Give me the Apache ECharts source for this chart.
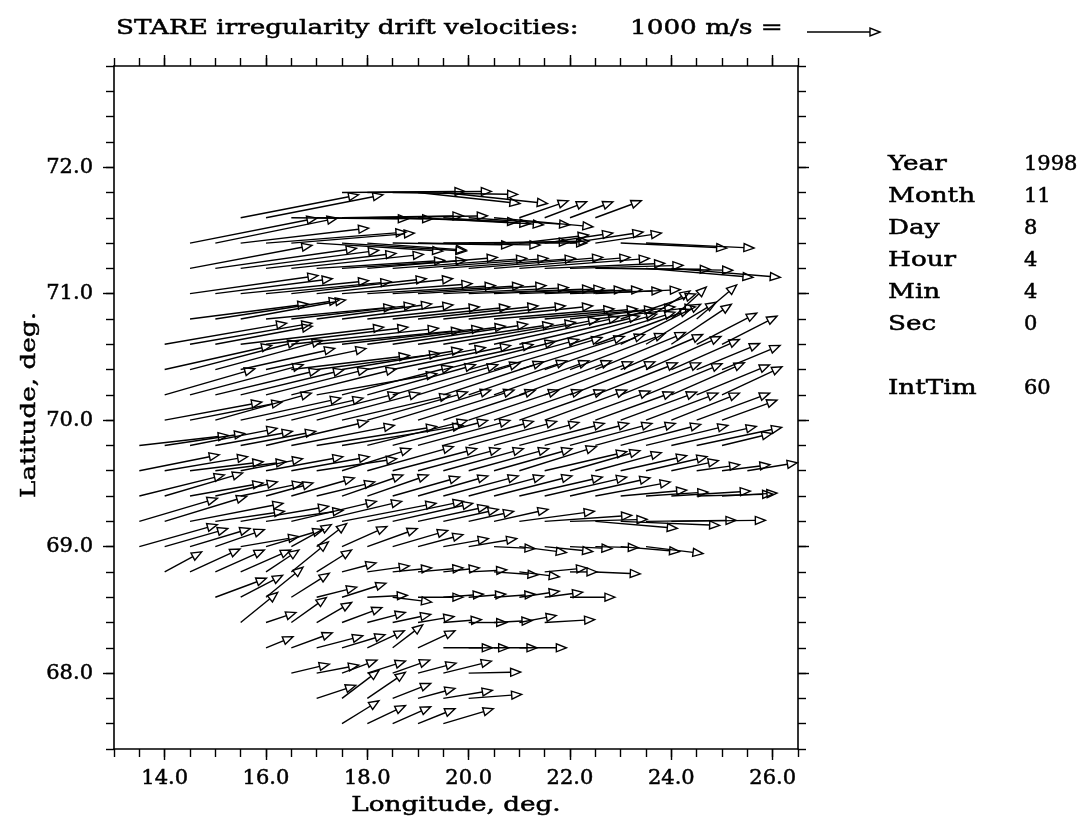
<!DOCTYPE html>
<html>
<head>
<meta charset="utf-8">
<title>STARE irregularity drift velocities</title>
<script src="https://cdn.jsdelivr.net/npm/echarts@6/dist/echarts.min.js"></script>
<style>
  html, body { margin: 0; padding: 0; background: #fff; }
  #chart { width: 1085px; height: 825px; }
</style>
</head>
<body>
<div id="chart"></div>
<script>
// tail rows: latitude of each row and longitude of its first cell (cells every 0.5 deg)
var rowLat = [71.8, 71.6, 71.4, 71.2, 71.0, 70.8, 70.6, 70.4, 70.2, 70.0, 69.8,
              69.6, 69.4, 69.2, 69.0, 68.8, 68.6, 68.4, 68.2, 68.0, 67.8, 67.6];
var rowLon0 = [17.5, 15.5, 14.5, 14.5, 14.5, 14.5, 14.0, 14.0, 14.0, 14.0, 13.5,
               13.5, 13.5, 13.5, 13.5, 14.0, 15.0, 15.5, 16.0, 16.5, 17.0, 17.5];
var lonStep = 0.5;

// eastward velocity, m/s, one list per row
var velEast = [
  [1685,1699,1712,1397,1425],
  [1616,1603,1603,1589,1658,1644,1712,1534,1370,1384,1356,671,575,589,630],
  [1740,1671,1753,1918,1685,1726,1699,1356,1630,1671,1726,1616,1301,945,932,1000,904,1452,1479],
  [1671,1932,1890,1781,1808,1753,1699,1781,1836,1781,1808,1836,1863,1781,1644,1548,1575,1534,1466,1493],
  [1753,1603,1753,1712,1849,1863,1781,1753,1781,1753,1712,1699,1507,1438,1329,1260,1164],
  [1616,1699,1438,1753,1685,1575,1521,1534,1603,1644,1671,1699,1644,1616,1507,1438,1370,1027,603,479,548],
  [1671,1671,1329,1959,1945,2014,1986,1918,1890,1849,1849,1808,1781,1712,1644,1534,1438,1301,1096,959,822,822,753],
  [1466,1479,1466,1288,1370,1616,1685,1644,1616,1616,1575,1534,1507,1479,1438,1370,1301,1233,1123,1027,932,863,795],
  [1233,1548,1425,1411,1397,1438,1644,1507,1479,1438,1397,1370,1342,1301,1260,1205,1164,1123,1096,1041,1000,1000,822],
  [1329,1260,1315,1370,1329,1466,1411,1479,1370,1342,1315,1260,1233,1205,1164,1123,1096,1068,1041,986,932,1000,753],
  [1219,1096,1192,1055,1027,1397,1411,1644,1658,1370,1301,1260,1233,1205,1164,1164,1151,1123,1096,1096,1123,1164,1164,685],
  [1096,1137,1000,973,849,1055,1068,1096,945,1178,1151,1123,1096,1096,1068,1055,1123,959,904,904,836,644,589,658,685],
  [1164,1068,1000,849,849,644,863,795,836,836,918,959,1027,1027,1068,1137,1123,1096,1027,904,849,1082,1041,753],
  [1068,1123,1274,945,1205,1055,1164,1164,1288,1315,1096,959,753,616,740,1027,1192,1055,1123,1356,1233,1288],
  [1068,863,822,671,795,781,548,411,616,685,753,616,616,658,562,644,658,575,589,808,781],
  [507,685,671,685,452,507,479,466,575,534,616,493,521,603,548,575,370,616],
  [699,575,507,521,548,603,548,534,616,548,507,562,548,521,616],
  [507,411,479,479,548,521,521,493,521,521,521,507,685],
  [370,562,630,589,507,411,507,671,548,589,644],
  [521,575,479,521,507,521,658,712],
  [534,507,521,521,507,671,726],
  [507,521,521,507,685]
];

// northward velocity, m/s, one list per row
var velNorth = [
  [14,14,-27,-151,-151],
  [315,315,-14,-14,27,27,-55,-82,-96,-96,-123,233,219,219,233],
  [342,342,205,151,137,-110,-110,-96,-27,-27,14,0,27,110,137,151,137,-68,-68],
  [315,274,247,205,192,110,110,151,137,137,137,151,151,137,68,41,-14,-27,-123,-123],
  [247,205,178,164,205,205,137,110,110,110,82,68,68,55,55,41,55],
  [205,260,260,164,192,205,192,164,164,178,178,178,137,137,137,164,164,342,384,438,466],
  [288,288,247,233,233,219,192,219,247,274,274,301,342,370,384,411,438,479,548,575,548,425,384],
  [329,384,397,288,288,192,219,274,301,329,342,384,411,438,452,479,493,507,479,452,411,356,329],
  [356,411,342,342,356,356,288,384,411,411,438,452,466,466,466,452,452,438,438,425,438,411,384],
  [247,247,370,301,301,370,370,342,384,411,411,411,411,411,411,411,397,384,384,370,370,370,274],
  [137,164,233,192,192,329,274,260,274,342,342,342,329,329,315,301,301,301,301,288,274,260,247,164],
  [219,192,123,123,164,192,192,164,301,329,301,301,301,301,301,329,260,274,247,205,192,137,82,82,110],
  [288,315,178,192,178,178,247,192,288,288,260,274,274,274,274,260,260,247,192,82,55,68,27,41],
  [315,342,247,137,205,151,274,274,247,274,247,205,164,137,164,137,82,27,-96,-55,14,14],
  [301,247,247,233,137,233,301,315,274,247,219,164,110,110,-27,-82,-68,-27,-14,-68,-96],
  [274,315,301,301,301,411,301,123,82,55,55,55,27,-41,-68,55,0,-27],
  [260,301,411,329,137,192,27,-68,0,41,41,41,82,68,0],
  [411,137,342,274,205,137,110,82,41,0,27,96,41],
  [151,205,164,178,233,315,233,0,0,0,0],
  [123,110,178,164,178,137,164,14],
  [178,384,356,205,137,110,55],
  [315,247,233,205,205]
];

var xLabelVals = [14, 16, 18, 20, 22, 24, 26];
var yLabelVals = [68, 69, 70, 71, 72];
var infoNames = ['Year', 'Month', 'Day', 'Hour', 'Min', 'Sec', '', 'IntTim'];
var infoValues = ['1998', '11', '8', '4', '4', '0', '', '60'];
var keySpeed = 1000; // m/s

var FONT = "'DejaVu Serif', serif";
var PX_PER_MS = 73 / keySpeed;
var HEAD_LEN = 10, HEAD_HALF = 4;
var LW = 1.4;
var WIDE = 1.25; // the plot's font is wider than DejaVu Serif

var cells = [];
rowLat.forEach(function (lat, i) {
  var n = Math.min(velEast[i].length, velNorth[i].length);
  for (var j = 0; j < n; j++) {
    cells.push([rowLon0[i] + j * lonStep, lat, velEast[i][j], velNorth[i][j]]);
  }
});

// shaft + open triangular head, in pixels
function arrowShapes(x0, y0, dx, dy) {
  var len = Math.sqrt(dx * dx + dy * dy) || 1;
  var ux = dx / len, uy = dy / len;
  var tx = x0 + dx, ty = y0 + dy;
  var bx = tx - ux * HEAD_LEN, by = ty - uy * HEAD_LEN;
  return [
    { type: 'line', shape: { x1: x0, y1: y0, x2: bx, y2: by }, style: { stroke: '#000', lineWidth: LW } },
    { type: 'polygon', shape: { points: [[tx, ty], [bx - uy * HEAD_HALF, by + ux * HEAD_HALF], [bx + uy * HEAD_HALF, by - ux * HEAD_HALF]] },
      style: { stroke: '#000', lineWidth: LW, fill: 'none', lineJoin: 'miter' } }
  ];
}

function renderArrow(params, api) {
  var p = api.coord([api.value(0), api.value(1)]);
  return {
    type: 'group',
    children: arrowShapes(p[0], p[1], api.value(2) * PX_PER_MS, -api.value(3) * PX_PER_MS)
  };
}

var axisLineStyle = { color: '#000', width: 1.6 };
var tickStyle = { color: '#000', width: 1.4 };
var labelStyle = { color: '#000', fontFamily: FONT, fontSize: 21, textBorderColor: '#000', textBorderWidth: 0.5 };

function xAx(pos, major, labels) {
  return {
    type: 'value', position: pos, min: 13, max: 26.5, interval: 0.5,
    axisLine: { show: !major, lineStyle: axisLineStyle },
    axisTick: major ? { show: true, customValues: xLabelVals, length: 11, lineStyle: tickStyle }
                    : { show: true, length: 8, lineStyle: tickStyle },
    axisLabel: labels ? Object.assign({ show: true, customValues: xLabelVals, margin: 19,
                          formatter: function (v) { return v.toFixed(1); } }, labelStyle)
                      : { show: false },
    splitLine: { show: false }
  };
}
function yAx(pos, major, labels) {
  return {
    type: 'value', position: pos, min: 67.4, max: 72.8, interval: 0.2,
    axisLine: { show: !major, lineStyle: axisLineStyle },
    axisTick: major ? { show: true, customValues: yLabelVals, length: 11, lineStyle: tickStyle }
                    : { show: true, length: 8, lineStyle: tickStyle },
    axisLabel: labels ? Object.assign({ show: true, customValues: yLabelVals, margin: 21,
                          formatter: function (v) { return v.toFixed(1); } }, labelStyle)
                      : { show: false },
    splitLine: { show: false }
  };
}

function txt(x, y, s, opts) {
  opts = opts || {};
  var align = opts.align || 'left';
  return {
    type: 'text', x: x, y: y, rotation: opts.rotation || 0,
    scaleX: opts.wide === false ? 1 : WIDE, silent: true,
    style: { text: s, fill: '#000', font: '21px ' + FONT, stroke: '#000', lineWidth: 0.5,
             align: align, textAlign: align, verticalAlign: 'middle', textVerticalAlign: 'middle' }
  };
}

var graphics = [
  txt(116, 29, 'STARE irregularity drift velocities:'),
  txt(630, 29, '1000 m/s ='),
  { type: 'group', silent: true, children: arrowShapes(807, 32, keySpeed * PX_PER_MS, 0) },
  txt(456, 806, 'Longitude, deg.', { align: 'center' }),
  txt(30, 405, 'Latitude, deg.', { align: 'center', rotation: Math.PI / 2 })
];
infoNames.forEach(function (name, i) {
  if (!name) return;
  graphics.push(txt(888, 165 + i * 32, name));
  graphics.push(txt(1024, 165 + i * 32, infoValues[i], { wide: false }));
});

var chart = echarts.init(document.getElementById('chart'), null, { renderer: 'canvas' });
chart.setOption({
  backgroundColor: '#fff',
  animation: false,
  grid: { left: 114, top: 66, right: 287, bottom: 76, containLabel: false },
  xAxis: [xAx('bottom', false, true), xAx('bottom', true, false), xAx('top', false, false), xAx('top', true, false)],
  yAxis: [yAx('left', false, true), yAx('left', true, false), yAx('right', false, false), yAx('right', true, false)],
  graphic: graphics,
  series: [{
    type: 'custom',
    xAxisIndex: 0,
    yAxisIndex: 0,
    data: cells,
    encode: { x: 0, y: 1 },
    clip: false,
    silent: true,
    renderItem: renderArrow
  }]
});
</script>
</body>
</html>
